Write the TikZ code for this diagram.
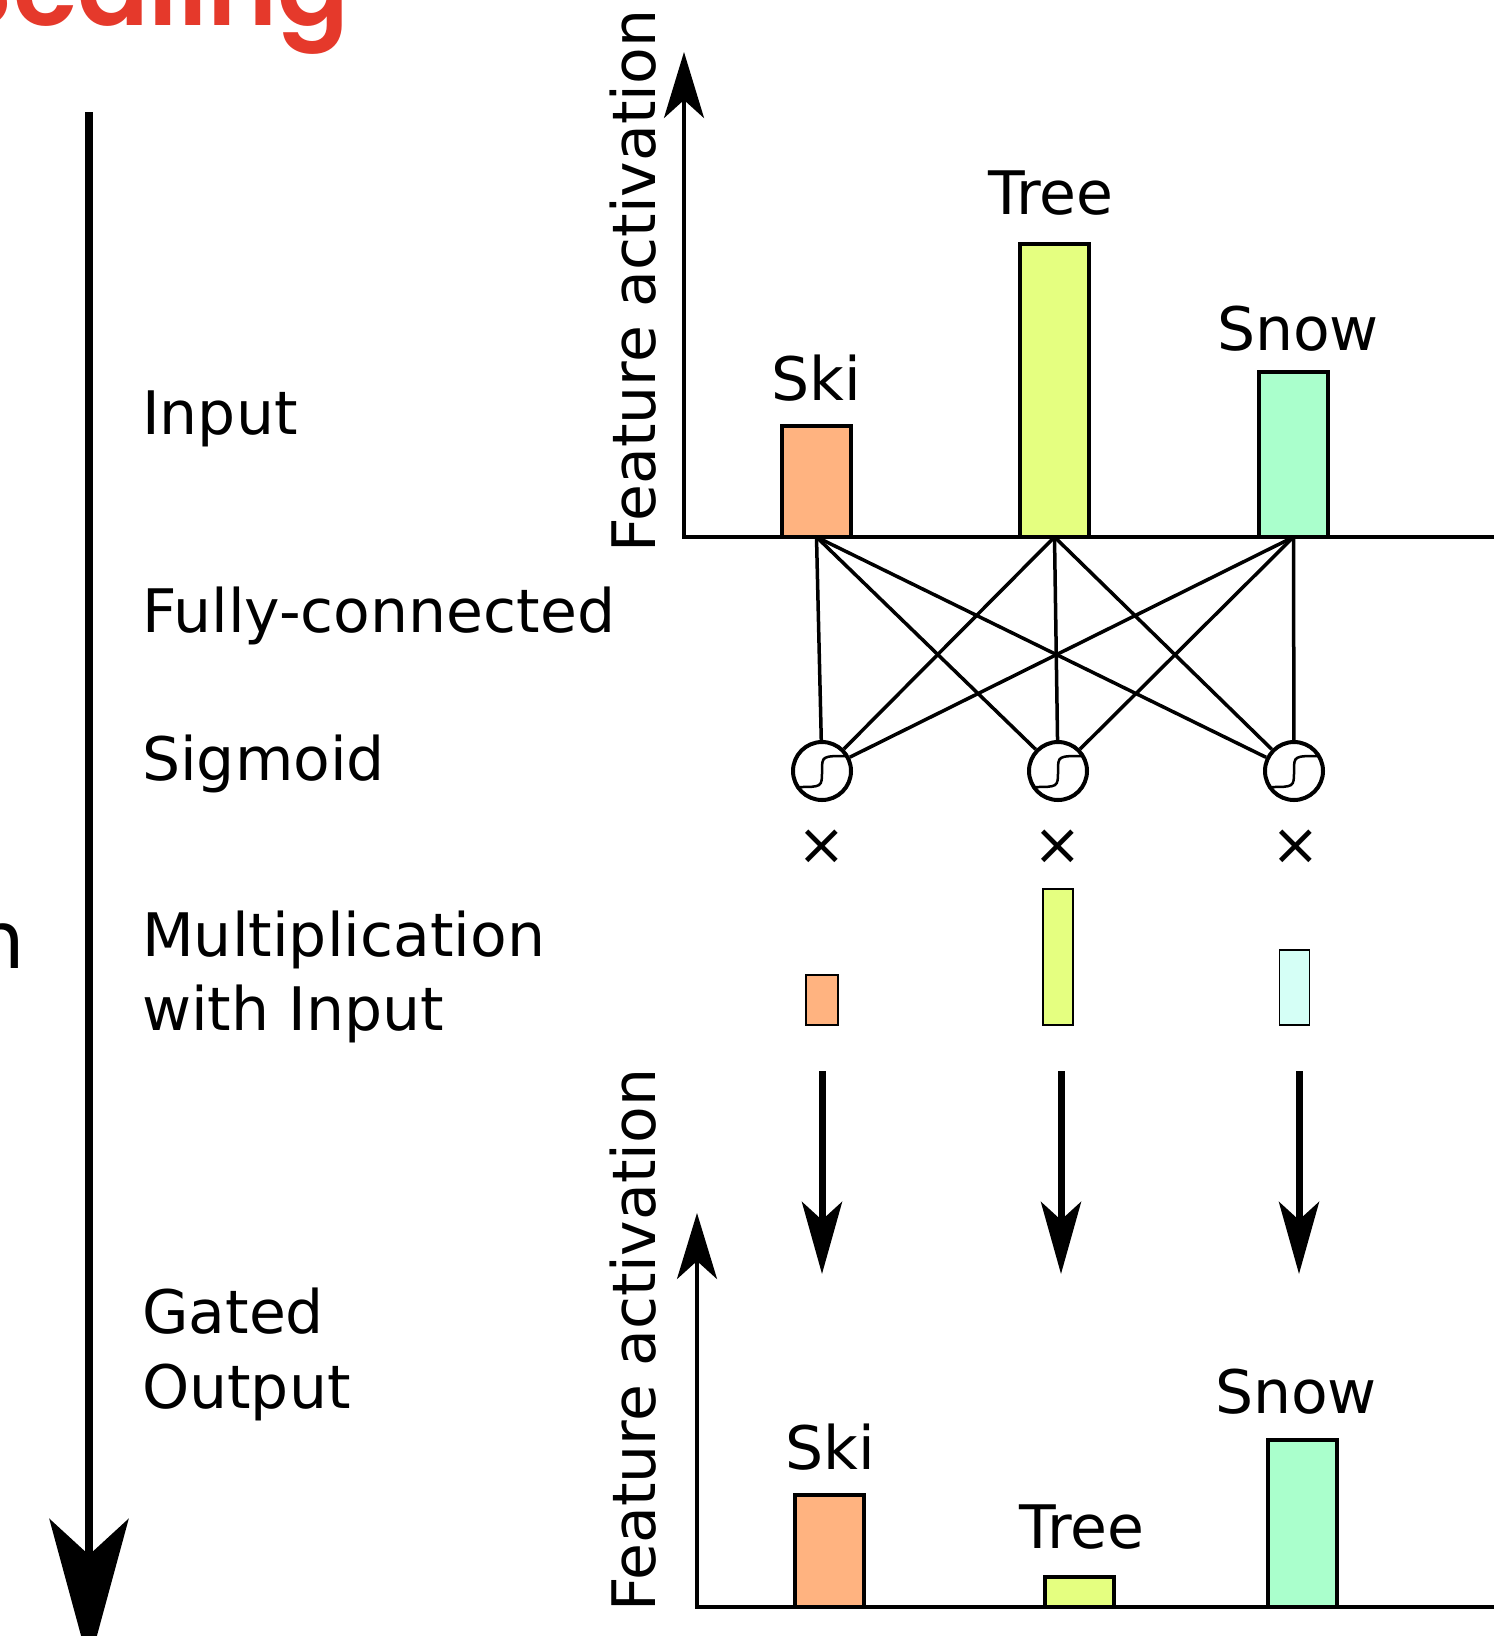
\documentclass[tikz,border=0pt]{standalone}
\usepackage{fontspec}
\setmainfont{DejaVu Sans}
\IfFontExistsTF{Poppins SemiBold}
  {\newfontfamily\redfont{Poppins SemiBold}\newcommand\redweight{}}
  {\newfontfamily\redfont{Poppins}\newcommand\redweight{\bfseries}}
\usetikzlibrary{arrows.meta}
\definecolor{skic}{HTML}{FFB380}
\definecolor{treec}{HTML}{E5FF80}
\definecolor{snowc}{HTML}{AAFFCC}
\definecolor{snowl}{HTML}{D5FFF6}
\definecolor{redt}{HTML}{E5392B}
\begin{document}
\begin{tikzpicture}[x=1pt,y=-1pt,
  lbl/.style={anchor=base west, inner sep=0pt, font=\fontsize{60}{74}\selectfont},
  barlbl/.style={anchor=base, inner sep=0pt, font=\fontsize{60}{70}\selectfont},
  bigbar/.style={draw, line width=4pt, anchor=south, minimum width=69pt, inner sep=0pt, outer sep=0pt},
  smallbar/.style={draw, line width=1.5pt, anchor=south, inner sep=0pt, outer sep=0pt, minimum width=30pt},
  sig/.style={circle, draw, line width=4pt, minimum size=58pt, inner sep=0pt},
  sigc/.style={line width=2.5pt},
  fc/.style={line width=3.5pt},
  axisline/.style={line width=4pt, -{Stealth[length=66pt,width=40pt,inset=18pt]}},
  downarr/.style={line width=7pt, -{Stealth[length=72pt,width=40pt,inset=18pt]}},
  bigarr/.style={line width=8pt, -{Stealth[length=146pt,width=79pt,inset=36pt]}},
  rotlbl/.style={anchor=base west, rotate=90, inner sep=0pt, font=\fontsize{60}{70}\selectfont},
  timeslbl/.style={inner sep=0pt, font=\fontsize{58}{70}\selectfont}
]
\useasboundingbox (0,0) rectangle (1494,1636);
\clip (0,0) rectangle (1494,1636);

% title and cut side word
\node[anchor=base east, inner sep=0pt, text=redt, font=\redfont\redweight\fontsize{106}{116}\selectfont] (title) at (350,25) {Scaling};
\node[anchor=base east, inner sep=0pt, font=\fontsize{80}{90}\selectfont] (side) at (25,968) {n};

% big left arrow
\coordinate (bigtop) at (89,112);
\coordinate (bigtip) at (89,1665);
\draw[bigarr] (bigtop) -- (bigtip);

% step labels
\node[lbl] (input) at (142,434) {Input};
\node[lbl] (fully) at (142,632) {Fully-connected};
\node[lbl] (sigm) at (142,780) {Sigmoid};
\node[lbl] (mult) at (142,956) {Multiplication};
\node[lbl] (withi) at (142,1030) {with Input};
\node[lbl] (gated) at (142,1333) {Gated};
\node[lbl] (outp) at (142,1408) {Output};

% top chart
\coordinate (o1) at (684,537);
\coordinate (xe1) at (1494,537);
\coordinate (ye1) at (684,52);
\draw[axisline] (xe1) -- (o1) -- (ye1);
\node[rotlbl] (fa1) at (655,553) {Feature activation};
\node[bigbar, fill=skic, minimum height=111pt] (ski1) at (816.5,537) {};
\node[bigbar, fill=treec, minimum height=293pt] (tree1) at (1054.5,537) {};
\node[bigbar, fill=snowc, minimum height=165pt] (snow1) at (1293.5,537) {};
\node[barlbl] (lski1) at (816,400) {Ski};
\node[barlbl] (ltree1) at (1051,214) {Tree};
\node[barlbl] (lsnow1) at (1298,350) {Snow};

% sigmoid units
\node[sig] (c1) at (822,771) {};
\node[sig] (c2) at (1058,771) {};
\node[sig] (c3) at (1294,771) {};
\foreach \c in {c1,c2,c3}{
  \draw[sigc, shift={(\c)}] (-24,16) .. controls (0,16) and (0,16) .. (0,0) .. controls (0,-15) and (0,-15) .. (25,-15);
}
\foreach \b in {ski1,tree1,snow1}{
  \foreach \c in {c1,c2,c3}{
    \draw[fc] (\b.south) -- (\c);
  }
}

% multiplication signs
\node[timeslbl] (m1) at (822,847) {×};
\node[timeslbl] (m2) at (1058,847) {×};
\node[timeslbl] (m3) at (1296,847) {×};

% small bars
\node[smallbar, fill=skic, minimum width=32pt, minimum height=50pt] (s1) at (822,1025) {};
\node[smallbar, fill=treec, minimum height=136pt] (s2) at (1058,1025) {};
\node[smallbar, fill=snowl, minimum height=75pt] (s3) at (1294.5,1025) {};

% down arrows
\coordinate (d1a) at (822,1071); \coordinate (d1b) at (822,1274);
\coordinate (d2a) at (1061,1071); \coordinate (d2b) at (1061,1274);
\coordinate (d3a) at (1299,1071); \coordinate (d3b) at (1299,1274);
\draw[downarr] (d1a) -- (d1b);
\draw[downarr] (d2a) -- (d2b);
\draw[downarr] (d3a) -- (d3b);

% bottom chart
\coordinate (o2) at (697,1607);
\coordinate (xe2) at (1494,1607);
\coordinate (ye2) at (697,1213);
\draw[axisline] (xe2) -- (o2) -- (ye2);
\node[rotlbl] (fa2) at (655,1612) {Feature activation};
\node[bigbar, fill=skic, minimum height=112pt] (ski2) at (829,1607) {};
\node[bigbar, fill=treec, minimum height=30pt] (tree2) at (1079.5,1607) {};
\node[bigbar, fill=snowc, minimum height=167pt] (snow2) at (1302.5,1607) {};
\node[barlbl] (lski2) at (830,1469) {Ski};
\node[barlbl] (ltree2) at (1082,1548) {Tree};
\node[barlbl] (lsnow2) at (1296,1413) {Snow};
\end{tikzpicture}
\end{document}
